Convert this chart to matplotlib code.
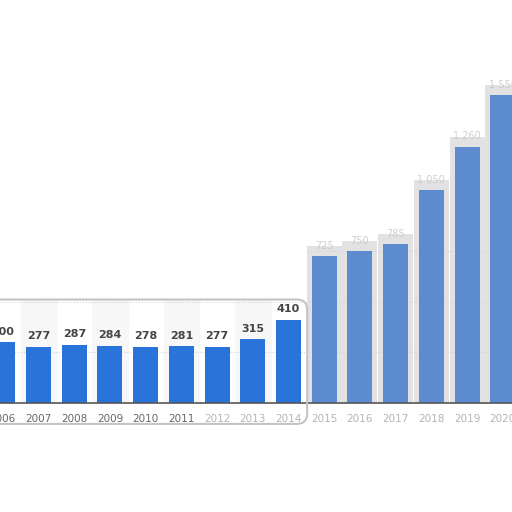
import matplotlib
matplotlib.use("Agg")
import matplotlib.pyplot as plt
from matplotlib.patches import FancyBboxPatch

# data
years = [2006, 2007, 2008, 2009, 2010, 2011, 2012, 2013, 2014,
         2015, 2016, 2017, 2018, 2019, 2020]
values = [300, 277, 287, 284, 278, 281, 277, 315, 410,
          725, 750, 785, 1050, 1265, 1520]
labels = ["300", "277", "287", "284", "278", "281", "277", "315", "410",
          "725", "750", "785", "1 050", "1 260", "1 550"]
sharp_years = 9  # the first bars are in focus, the rest are blurred

blue = "#2874d8"
soft_blue = "#5d8bcf"

fig = plt.figure(figsize=(5.12, 5.12), dpi=100)
ax = fig.add_axes([0, 109 / 512, 1, 403 / 512])

# faint alternating column bands in the sharp part
for i, y in enumerate(years[:sharp_years]):
    if i % 2 == 1:
        ax.axvspan(y - 0.5, y + 0.5, ymin=0, ymax=0.255, color="#f7f7f7", zorder=0)

# grey halo behind the blurred bars
ax.bar(years[sharp_years:], [v + 50 for v in values[sharp_years:]], width=0.98,
       color="#e2e2e2", zorder=1)

colors = [blue] * sharp_years + [soft_blue] * (len(years) - sharp_years)
ax.bar(years, values, width=0.7, color=colors, zorder=3)

for i, (y, v, lab) in enumerate(zip(years, values, labels)):
    if i < sharp_years:
        ax.annotate(lab, (y, v), xytext=(0, 4), textcoords="offset points",
                    ha="center", va="bottom", fontsize=8, fontweight="bold",
                    color="#444444", zorder=4)
    else:
        ax.annotate(lab, (y, v), xytext=(0, 4), textcoords="offset points",
                    ha="center", va="bottom", fontsize=7, color="#c4c4c4",
                    alpha=0.8, zorder=4)

ax.set_xlim(2005.92, 2020.26)
ax.set_ylim(0, 1991)
ax.axhline(250, color="#d4d4d4", linestyle=":", linewidth=0.8, zorder=2)
ax.axhline(500, color="#d4d4d4", linestyle=":", linewidth=0.8, zorder=2)
ax.axhline(750, xmin=0.6, color="#d4d4d4", linestyle=":", linewidth=0.8, zorder=2)

for s in ["top", "right", "left"]:
    ax.spines[s].set_visible(False)
ax.spines["bottom"].set_color("#555555")
ax.spines["bottom"].set_linewidth(1.2)
ax.spines["bottom"].set_zorder(5)
ax.set_yticks([])
ax.set_xticks(years)
ax.set_xticklabels([str(y) for y in years])
ax.tick_params(axis="x", length=0, pad=8, labelsize=7.5, labelcolor="#666666")
for i, t in enumerate(ax.get_xticklabels()):
    if i >= sharp_years - 3:
        t.set_color("#b4b4b4")

# rounded frame around the sharp part
frame = FancyBboxPatch((-0.02, 0.172), 0.62, 0.243,
                       boxstyle="round,pad=0,rounding_size=0.02",
                       transform=fig.transFigure, fill=False,
                       edgecolor="#c4c4c4", linewidth=1.5, zorder=6)
fig.patches.append(frame)

fig.savefig("out.png", dpi=100)
